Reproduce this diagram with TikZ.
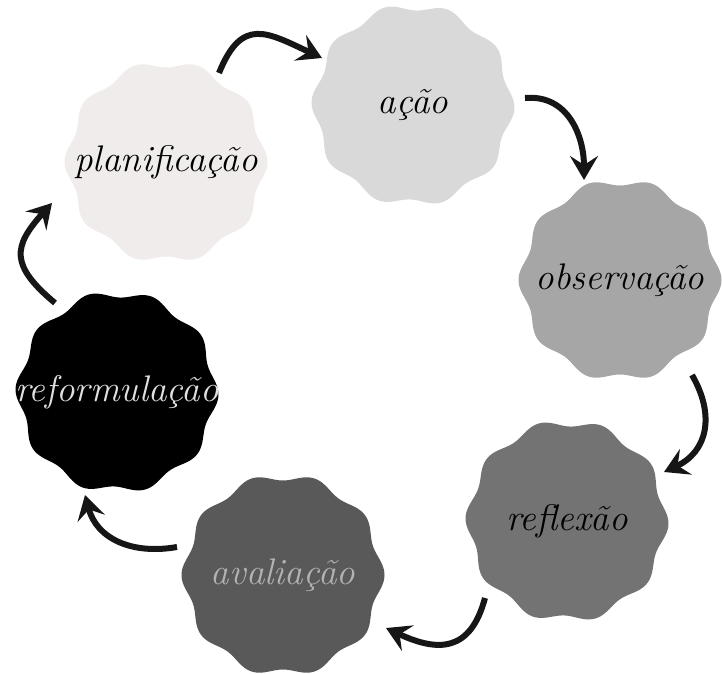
\documentclass[tikz,border=0pt]{standalone}
\usetikzlibrary{arrows.meta}
\definecolor{cplan}{HTML}{EFECEB}
\definecolor{cacao}{HTML}{D9D9D9}
\definecolor{cobs}{HTML}{A6A6A6}
\definecolor{cref}{HTML}{737373}
\definecolor{caval}{HTML}{595959}
\definecolor{cform}{HTML}{000000}
\definecolor{ink}{HTML}{161616}
\tikzset{
  lbl/.style={font=\fontsize{37}{42}\selectfont\itshape, inner sep=0pt},
  flow/.style={draw=ink, line width=6pt, -{Stealth[length=24pt,width=28pt,inset=9pt]}},
}
\newcommand{\blobshape}[3]{% center, phase, colour
  \fill[#3, shift={(#1)}] plot[domain=0:360, samples=241, smooth, variable=\t]
    ({(98+3.5*cos(10*\t+#2))*cos(\t)}, {(98+3.5*cos(10*\t+#2))*sin(\t)}) -- cycle;
}
\begin{document}
\begin{tikzpicture}[x=1pt,y=1pt]
\useasboundingbox (0,0) rectangle (722,673);
% centres
\coordinate (cpl) at (166,511);
\coordinate (cac) at (413,568);
\coordinate (cob) at (620,393);
\coordinate (crf) at (567,152);
\coordinate (cav) at (283,98);
\coordinate (cfo) at (117,281);
% shapes
\blobshape{cpl}{0}{cplan}
\blobshape{cac}{18}{cacao}
\blobshape{cob}{0}{cobs}
\blobshape{crf}{18}{cref}
\blobshape{cav}{0}{caval}
\blobshape{cfo}{18}{cform}
% labels
\node[lbl, text=black] (pl) at (cpl) {planificação};
\node[lbl, text=black] (ac) at (cac) {ação};
\node[lbl, text=black] (ob) at (cob) {observação};
\node[lbl, text=black] (rf) at (crf) {reflexão};
\node[lbl, text=cobs!85!white] (av) at (cav) {avaliação};
\node[lbl, text=white!88!black] (fo) at (cfo) {reformulação};
% connector ends
\coordinate (s1) at (219,600); \coordinate (e1) at (322,615);
\coordinate (s2) at (525,575); \coordinate (e2) at (584,493);
\coordinate (s3) at (692,298); \coordinate (e3) at (664,201);
\coordinate (s4) at (485,75);  \coordinate (e4) at (386,45);
\coordinate (s5) at (177,126); \coordinate (e5) at (85,178);
\coordinate (s6) at (55,370);  \coordinate (e6) at (52,470);
% connectors
\draw[flow] (s1) to[out=68,in=155,looseness=1.5] (e1);
\draw[flow] (s2) to[out=5,in=90,looseness=1.1] (e2);
\draw[flow] (s3) to[out=-60,in=25,looseness=1.2] (e3);
\draw[flow] (s4) to[out=-105,in=-25,looseness=1.4] (e4);
\draw[flow] (s5) to[out=190,in=-75,looseness=1.1] (e5);
\draw[flow] (s6) to[out=140,in=228,looseness=1.5] (e6);
\end{tikzpicture}
\end{document}
